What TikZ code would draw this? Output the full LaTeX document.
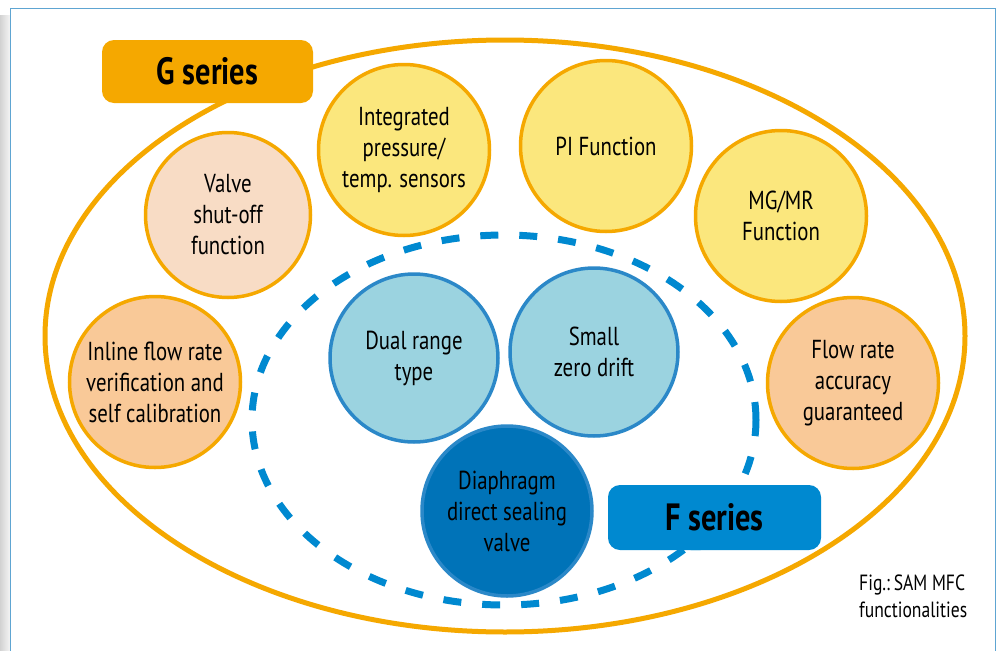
\documentclass[tikz,border=0pt]{standalone}
\usepackage{fontspec}
\setmainfont{PT Sans}[FakeStretch=0.8]
\usetikzlibrary{shapes.geometric}
\definecolor{gorange}{HTML}{F5A800}
\definecolor{peach}{HTML}{F9C998}
\definecolor{lpeach}{HTML}{F8DCC5}
\definecolor{yell}{HTML}{FBE77D}
\definecolor{lblue}{HTML}{9BD3E0}
\definecolor{bblue}{HTML}{2B88C8}
\definecolor{dblue}{HTML}{0073B8}
\definecolor{fblue}{HTML}{0089D0}
\definecolor{frameblue}{HTML}{5EA5D2}
\tikzset{
  gcirc/.style={circle, draw=gorange, line width=3.5pt, minimum size=171pt, inner sep=0pt, align=center, font=\fontsize{26}{31}\selectfont},
  fcirc/.style={circle, draw=bblue, line width=3.5pt, minimum size=168pt, inner sep=0pt, align=center, font=\fontsize{26}{31}\selectfont},
  label box/.style={rounded corners=12pt, minimum width=211pt, minimum height=63pt, inner sep=0pt, font=\bfseries\fontsize{38}{40}\selectfont}
}
\begin{document}
\begin{tikzpicture}[x=1pt,y=-1pt]
\useasboundingbox (0,0) rectangle (997,651);
\fill[white] (0,0) rectangle (997,651);
% frame shadow and border
\shade[left color=gray!35, right color=gray!8] (0,15) rectangle (10,651);
\draw[frameblue, line width=1pt] (10,660) -- (10,8) -- (995,8) -- (995,660);
% big ellipse
\node (gell) [ellipse, draw=gorange, line width=5pt, minimum width=920pt, minimum height=592pt, inner sep=0pt] at (505,336) {};
% dashed ellipse
\node (fell) [ellipse, draw=fblue, line width=7pt, dash pattern=on 18pt off 21pt, minimum width=504pt, minimum height=370pt, inner sep=0pt] at (504,420) {};
% orange circles
\node (inl) [gcirc, fill=peach] at (155,382) {Inline flow rate\\verification and\\self calibration};
\node (vso) [gcirc, fill=lpeach, minimum size=165pt] at (228,215) {Valve\\shut-off\\function};
\node (ips) [gcirc, fill=yell] at (404,150) {Integrated\\pressure/\\temp. sensors};
\node (pif) [gcirc, fill=yell] at (606,146) {PI Function};
\node (mgm) [gcirc, fill=yell] at (781,216) {MG/MR\\Function};
\node (fra) [gcirc, fill=peach] at (853,383) {Flow rate\\accuracy\\guaranteed};
% blue circles
\node (dual) [fcirc, fill=lblue] at (414,358) {Dual range\\type};
\node (szd) [fcirc, fill=lblue] at (594,352) {Small\\zero drift};
\node (dia) [fcirc, fill=dblue, minimum size=170pt] at (507,511) {Diaphragm\\direct sealing\\valve};
% labels
\node (gser) [label box, fill=gorange] at (207.5,71.5) {G series};
\node (fser) [label box, fill=fblue, minimum width=213pt, minimum height=65pt] at (714.5,517.5) {F series};
\fill[fblue] ([xshift=-6pt]fser.south) ++(-18pt,0) -- ++(10pt,0) -- ++(-4pt,4pt) -- cycle;
% caption
\node (cap) [anchor=north west, align=left, inner sep=0pt, font=\fontsize{22}{27}\selectfont] at (859,575) {Fig.:\,SAM MFC\\functionalities};
\end{tikzpicture}
\end{document}
